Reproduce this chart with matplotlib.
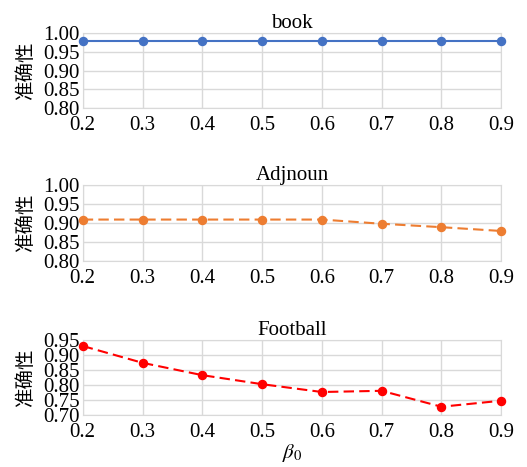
import matplotlib
matplotlib.use('Agg')
import matplotlib.pyplot as plt

plt.rcParams['font.family'] = ['Liberation Serif', 'Noto Sans CJK SC']
plt.rcParams['mathtext.fontset'] = 'stix'

# beta_0 values shared by all three panels
beta0 = [0.2, 0.3, 0.4, 0.5, 0.6, 0.7, 0.8, 0.9]
xticks = ['0.2', '0.3', '0.4', '0.5', '0.6', '0.7', '0.8', '0.9']

book_acc = [0.980, 0.980, 0.980, 0.980, 0.980, 0.980, 0.980, 0.980]
adjnoun_acc = [0.909, 0.909, 0.909, 0.909, 0.909, 0.898, 0.889, 0.879]
football_acc = [0.930, 0.874, 0.833, 0.803, 0.777, 0.781, 0.728, 0.748]

titles = ['book', 'Adjnoun', 'Football']
ylims = [(0.80, 1.00), (0.80, 1.00), (0.70, 0.95)]
colors = ['#4472C4', '#ED7D31', '#FF0000']
dashed = [False, True, True]

fig = plt.figure(figsize=(5.27, 4.67), dpi=100)
boxes = [(0.157, 0.769, 0.794, 0.160),
         (0.157, 0.441, 0.794, 0.163),
         (0.157, 0.111, 0.794, 0.161)]

series = [book_acc, adjnoun_acc, football_acc]
for i in range(3):
    ax = fig.add_axes(boxes[i])
    line, = ax.plot(beta0, series[i], color=colors[i], linewidth=1.5,
                    marker='o', markersize=5.8, clip_on=False, zorder=3)
    if dashed[i]:
        line.set_dashes((5, 2.5))
    ax.set_xlim(0.2, 0.9)
    lo, hi = ylims[i]
    ax.set_ylim(lo, hi)
    yt = [round(lo + 0.05 * k, 2) for k in range(int(round((hi - lo) / 0.05)) + 1)]
    ax.set_yticks(yt)
    ax.set_yticklabels(['%.2f' % v for v in yt])
    ax.set_xticks(beta0)
    ax.set_xticklabels(xticks)
    ax.grid(True, color='#D9D9D9', linewidth=1)
    for s in ax.spines.values():
        s.set_color('#D9D9D9')
    ax.tick_params(axis='y', length=0, labelsize=15, pad=2)
    ax.tick_params(axis='x', length=0, labelsize=15, pad=6)
    ax.set_title(titles[i], fontsize=15, pad=3)
    ax.set_ylabel('准确性', fontsize=14, family=['Noto Sans CJK SC'], labelpad=5)

ax.set_xlabel(r'$\beta_0$', fontsize=15, labelpad=0)

fig.savefig('out.png', dpi=100)
